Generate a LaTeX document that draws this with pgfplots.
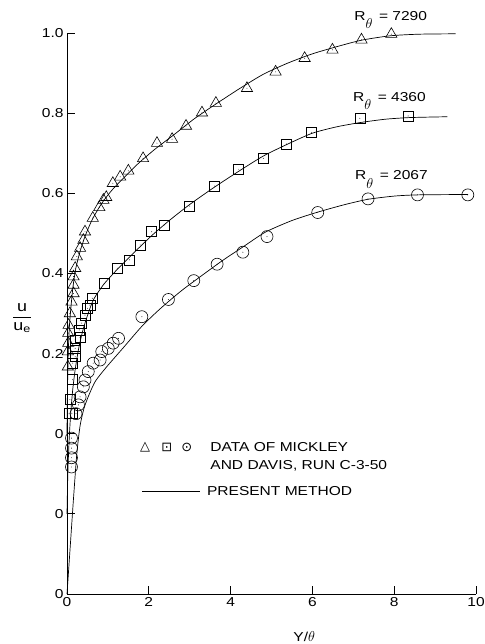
\documentclass[border=0pt]{standalone}
\usepackage{fontspec}
\setmainfont{Liberation Sans}[FakeStretch=1.2]
\newfontfamily\symfont{DejaVu Sans}
\usepackage{amsmath}
\usepackage{pgfplots}
\usepackage{pgfplotstable}
\pgfplotsset{compat=1.18}

% open marks with a small centre dot
\pgfdeclareplotmark{tridot}{%
  \pgfuseplotmark{triangle}%
  \pgfsetfillcolor{black}%
  \pgfpathcircle{\pgfpointorigin}{0.45pt}\pgfusepathqfill}
\pgfdeclareplotmark{sqdot}{%
  \pgfuseplotmark{square}%
  \pgfsetfillcolor{black}%
  \pgfpathcircle{\pgfpointorigin}{0.45pt}\pgfusepathqfill}
\pgfdeclareplotmark{cirdot}{%
  \pgfuseplotmark{o}%
  \pgfsetfillcolor{black}%
  \pgfpathcircle{\pgfpointorigin}{0.45pt}\pgfusepathqfill}

\newcommand{\Rth}{R\raisebox{-1.2ex}{\fontsize{15}{17}\selectfont$\theta$}}

% u/u_e against Y/theta
\pgfplotstableread{
x u
0.02 0.167
0.02 0.205
0.03 0.226
0.03 0.251
0.04 0.271
0.07 0.300
0.11 0.329
0.16 0.350
0.16 0.371
0.16 0.392
0.20 0.413
0.24 0.442
0.32 0.463
0.40 0.483
0.44 0.504
0.63 0.538
0.79 0.565
0.89 0.583
0.96 0.590
1.12 0.625
1.30 0.641
1.50 0.656
1.86 0.687
2.20 0.725
2.57 0.735
2.91 0.768
3.30 0.801
3.64 0.825
4.40 0.862
5.10 0.903
5.81 0.937
6.49 0.958
7.20 0.983
7.93 0.997
}\dataA
\pgfplotstableread{
x u
0.05 0.250
0.12 0.250
0.07 0.285
0.14 0.335
0.14 0.376
0.20 0.392
0.20 0.413
0.20 0.434
0.32 0.440
0.30 0.459
0.36 0.476
0.44 0.496
0.50 0.513
0.56 0.521
0.62 0.538
0.91 0.575
1.23 0.613
1.53 0.634
1.79 0.671
2.07 0.704
2.38 0.721
3.00 0.768
3.61 0.818
4.20 0.860
4.80 0.887
5.37 0.923
5.98 0.952
7.16 0.987
8.34 0.993
}\dataB
\pgfplotstableread{
x u
0.11 0.317
0.11 0.340
0.11 0.364
0.11 0.389
0.22 0.450
0.28 0.472
0.32 0.492
0.40 0.517
0.44 0.534
0.52 0.555
0.64 0.576
0.81 0.584
0.85 0.605
1.01 0.613
1.13 0.626
1.26 0.638
1.83 0.692
2.48 0.735
3.10 0.782
3.67 0.823
4.30 0.853
4.89 0.892
6.13 0.952
7.36 0.986
8.57 0.996
9.80 0.996
}\dataC
% present method
\pgfplotstableread{
x u
0 0
0.01 0.10
0.03 0.20
0.06 0.27
0.10 0.32
0.15 0.37
0.22 0.415
0.32 0.455
0.45 0.495
0.62 0.535
0.85 0.575
1.10 0.608
1.40 0.640
1.75 0.675
2.15 0.710
2.60 0.745
3.10 0.785
3.60 0.820
4.20 0.860
4.80 0.897
5.40 0.925
6.00 0.948
6.60 0.966
7.20 0.982
7.90 0.993
8.60 0.997
9.50 0.998
}\calcA
\pgfplotstableread{
x u
0 0
0.02 0.10
0.05 0.18
0.09 0.25
0.14 0.31
0.20 0.36
0.28 0.41
0.38 0.455
0.50 0.495
0.65 0.535
0.90 0.573
1.20 0.607
1.50 0.638
1.80 0.668
2.10 0.697
2.50 0.732
3.00 0.772
3.60 0.815
4.20 0.855
4.80 0.893
5.40 0.923
6.00 0.950
6.60 0.966
7.20 0.977
7.80 0.985
8.40 0.989
9.30 0.991
}\calcB
\pgfplotstableread{
x u
0 0
0.08 0.12
0.16 0.24
0.24 0.35
0.32 0.42
0.42 0.465
0.55 0.500
0.70 0.532
0.97 0.567
1.38 0.615
1.83 0.668
2.28 0.712
2.80 0.757
3.30 0.795
3.80 0.832
4.30 0.866
4.85 0.903
5.50 0.932
6.13 0.953
6.80 0.972
7.36 0.985
8.00 0.993
8.57 0.996
9.80 0.997
}\calcC

\begin{document}
\begin{tikzpicture}[font=\fontsize{13}{15}\selectfont]
\useasboundingbox (-67bp,-50bp) rectangle (418bp,594bp);
\begin{axis}[
  scale only axis, width=409bp, height=561bp,
  xmin=0, xmax=10, ymin=0, ymax=1.4,
  axis lines=left,
  axis line style={-, line width=0.9pt},
  xtick={0,2,4,6,8,10}, xticklabels={0,2,4,6,8,10},
  ytick={0,0.2,0.4,0.6,0.8,1.0,1.2,1.4},
  yticklabels={0,0,0,0.2,0.4,0.6,0.8,1.0},
  tick align=inside, major tick length=8bp,
  tick style={line width=0.8pt, black},
  clip=false,
  xlabel={Y/\fontsize{15}{17}\selectfont$\theta$},
  xlabel style={at={(axis description cs:0.58,-0.076)}, anchor=center},
  ylabel={\fontsize{15}{17}\selectfont$\dfrac{\text{u}}{\text{u}_{\text{e}}}$},
  ylabel style={rotate=-90, at={(axis description cs:-0.11,0.492)}, anchor=center},
  every axis plot/.append style={black},
]
% R_theta = 7290, raised by 0.4
\addplot[line width=0.7pt, smooth, tension=0.4] table[x=x, y expr=\thisrow{u}+0.4] {\calcA};
\addplot[only marks, mark=tridot, mark size=6.5bp, mark options={line width=0.6pt}] table[x=x, y expr=\thisrow{u}+0.4] {\dataA};
% R_theta = 4360, raised by 0.2
\addplot[line width=0.7pt, smooth, tension=0.4] table[x=x, y expr=\thisrow{u}+0.2] {\calcB};
\addplot[only marks, mark=sqdot, mark size=5bp, mark options={line width=0.6pt}] table[x=x, y expr=\thisrow{u}+0.2] {\dataB};
% R_theta = 2067
\addplot[line width=0.7pt, smooth, tension=0.4] table[x=x, y=u] {\calcC};
\addplot[only marks, mark=cirdot, mark size=6bp, mark options={line width=0.6pt}] table[x=x, y=u] {\dataC};

\node[anchor=base west] at (axis cs:6.94,1.4308) {\Rth\, = 7290};
\node[anchor=base west] at (axis cs:6.91,1.2286) {\Rth\, = 4360};
\node[anchor=base west] at (axis cs:6.96,1.0332) {\Rth\, = 2067};

\node[font=\symfont\fontsize{13}{15}\selectfont] at (axis cs:1.91,0.367) {△};
\node[font=\symfont\fontsize{13}{15}\selectfont] at (axis cs:2.44,0.367) {⊡};
\node[font=\symfont\fontsize{13}{15}\selectfont] at (axis cs:2.93,0.367) {⊙};
\node[anchor=base west] at (axis cs:3.42,0.355) {DATA OF MICKLEY};
\node[anchor=base west] at (axis cs:3.42,0.311) {AND DAVIS, RUN C-3-50};
\node[anchor=base west, inner sep=0pt] at (axis cs:1.83,0.2446) {\rule[0.33em]{58bp}{0.7pt}\hspace{7bp}PRESENT METHOD};
\end{axis}
\end{tikzpicture}
\end{document}
